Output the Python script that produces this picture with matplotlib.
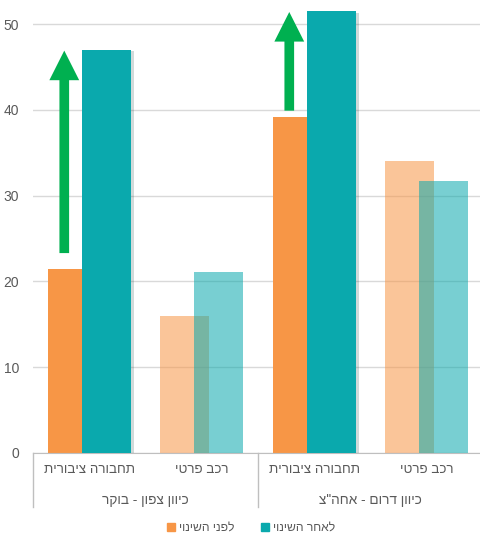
import matplotlib
matplotlib.use("Agg")
import matplotlib.pyplot as plt
import matplotlib.patheffects as pe
import numpy as np

plt.rcParams['font.family'] = ['Liberation Sans', 'DejaVu Sans']

# Data
categories = ['תחבורה ציבורית', 'רכב פרטי', 'תחבורה ציבורית', 'רכב פרטי']
groups = ['כיוון צפון - בוקר', 'כיוון דרום - אחה"צ']
before = [21.4, 16.0, 39.2, 34.0]
after = [47.0, 21.1, 51.5, 31.7]
series_names = ['לפני השינוי', 'לאחר השינוי']
# arrows drawn over the public transport pairs
arrow_cats = [0, 2]
arrow_from = [23.3, 39.9]
arrow_to = [46.9, 51.4]


def rtl(s):
    # matplotlib has no bidi support, so flip the Hebrew strings for display
    return s[::-1]


orange = '#F79646'
teal = '#0AA9AD'
grey_txt = '#595959'

fig = plt.figure(figsize=(4.8, 5.44), dpi=100)
ax = fig.add_axes([33 / 480, 91 / 544, 450 / 480, 453 / 544])

x = np.arange(len(categories))
w = 0.435
off = 0.153
shadow = [pe.SimplePatchShadow(offset=(2, -1), alpha=0.18), pe.Normal()]

for i in x:
    strong = categories[i] == categories[0]
    a = 1.0 if strong else 0.55
    ax.bar(i - off, before[i], w, color=orange, alpha=a, zorder=2)
    b2 = ax.bar(i + off, after[i], w, color=teal, alpha=a, zorder=3)
    if strong:
        for r in b2:
            r.set_path_effects(shadow)

for c, y0, y1 in zip(arrow_cats, arrow_from, arrow_to):
    ax.arrow(c - 0.222, y0, 0, y1 - y0, width=0.086, head_width=0.265,
             head_length=3.45, length_includes_head=True,
             color='#00B050', zorder=5, lw=0)

ax.set_xlim(-0.5, 3.5)
ax.set_ylim(0, 453 / 8.58)
ax.set_yticks(range(0, 51, 10))
ax.yaxis.grid(True, color='#D9D9D9', lw=1)
ax.set_axisbelow(True)
for s in ['top', 'right', 'left']:
    ax.spines[s].set_visible(False)
ax.spines['bottom'].set_color('#BFBFBF')
ax.tick_params(axis='y', length=0, pad=10, labelsize=10, labelcolor=grey_txt)
ax.set_xticks(x)
ax.set_xticklabels([rtl(c) for c in categories], fontsize=9.6, color=grey_txt)
ax.tick_params(axis='x', length=0, pad=8)

trans = ax.get_xaxis_transform()
for xv in [-0.5, 1.5, 3.5]:
    ax.plot([xv, xv], [0, -54 / 453], transform=trans, color='#BFBFBF',
            lw=1, clip_on=False)
for gi, g in enumerate(groups):
    ax.text(gi * 2 + 0.5, -47 / 453, rtl(g), transform=trans, ha='center',
            va='center', fontsize=9.8, color=grey_txt)

h1 = plt.Rectangle((0, 0), 1, 1, color=orange)
h2 = plt.Rectangle((0, 0), 1, 1, color=teal)
fig.legend([h1, h2], [rtl(n) for n in series_names], loc='center',
           bbox_to_anchor=(251 / 480, 1 - 528 / 544), ncol=2, frameon=False,
           fontsize=8.7, labelcolor=grey_txt, handlelength=0.65,
           handleheight=0.65, handletextpad=0.35, columnspacing=2.2)

fig.savefig('out.png', dpi=100)
